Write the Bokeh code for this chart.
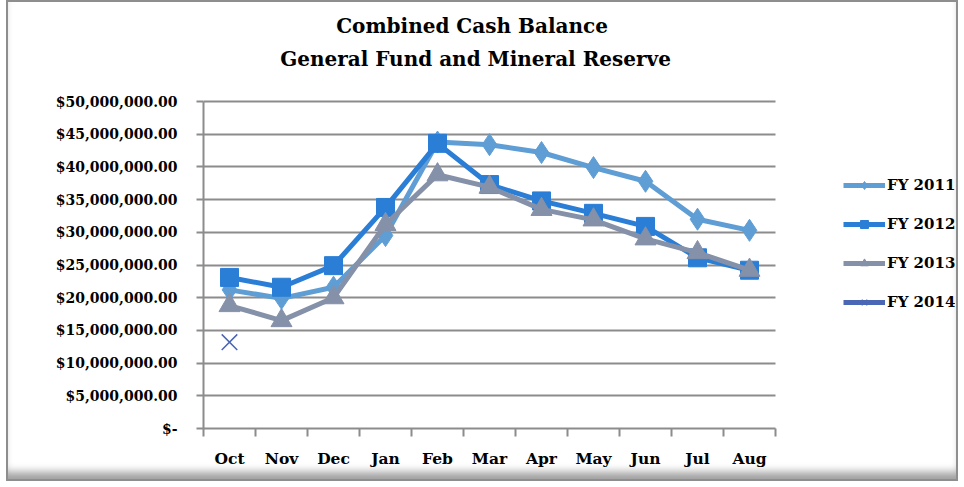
from bokeh.plotting import figure
from bokeh.models import (Range1d, FixedTicker, Legend, LegendItem, Label)
from bokeh.embed import file_html
from bokeh.resources import INLINE

months = ["Oct", "Nov", "Dec", "Jan", "Feb", "Mar", "Apr", "May", "Jun", "Jul", "Aug"]
fy2011 = [21.2e6, 19.9e6, 21.6e6, 29.5e6, 43.8e6, 43.4e6, 42.2e6, 39.9e6, 37.8e6, 32.0e6, 30.3e6]
fy2012 = [23.1e6, 21.6e6, 24.9e6, 33.8e6, 43.6e6, 37.3e6, 34.8e6, 32.9e6, 30.9e6, 26.1e6, 24.2e6]
fy2013 = [18.8e6, 16.5e6, 20.0e6, 31.2e6, 38.8e6, 36.9e6, 33.5e6, 31.9e6, 29.0e6, 26.9e6, 24.2e6]
fy2014 = [13.2e6]
series_names = ["FY 2011", "FY 2012", "FY 2013", "FY 2014"]
y_ticks = list(range(0, 50_000_001, 5_000_000))
title_lines = ["Combined  Cash Balance", "General Fund and Mineral Reserve"]

FONT = "DejaVu Serif"
W, H = 952, 481
# layout (pixels): plot area 572 x 327 px; frame extended to hold title + legend
LEFT, RIGHT_PAD, BOTTOM = 195, 5, 55
DATA_W, DATA_H = 572, 327
frame_w = W - LEFT - RIGHT_PAD
frame_h = H - BOTTOM
n = len(months)
y_max = y_ticks[-1]

xs = [i + 0.5 for i in range(n)]

p = figure(width=W, height=H, output_backend="svg", toolbar_location=None,
           x_range=Range1d(0, n * frame_w / DATA_W),
           y_range=Range1d(0, y_max * frame_h / DATA_H),
           min_border_left=LEFT, min_border_right=RIGHT_PAD,
           min_border_bottom=BOTTOM, min_border_top=0, title=None,
           styles={"border": "2px solid #8e8e8e", "margin-left": "6px",
                   "background-color": "white",
                   "box-shadow": "inset 0px -11px 8px -4px #a0a0a0"})
p.border_fill_alpha = 0
p.background_fill_alpha = 0
p.outline_line_color = None
p.xgrid.grid_line_color = None
p.ygrid.grid_line_color = "#8c8c8c"
p.ygrid.grid_line_width = 2
p.ygrid.cross_bounds = (0, n)

# x axis
p.xaxis.bounds = (0, n)
p.xaxis.ticker = FixedTicker(ticks=xs, minor_ticks=list(range(n + 1)))
p.xaxis.major_label_overrides = {x: m for x, m in zip(xs, months)}
p.xaxis.major_tick_line_color = None
p.xaxis.minor_tick_line_color = "#8c8c8c"
p.xaxis.minor_tick_line_width = 2
p.xaxis.minor_tick_out = 8
p.xaxis.minor_tick_in = 0
p.xaxis.axis_line_color = "#8c8c8c"
p.xaxis.axis_line_width = 2
p.xaxis.major_label_standoff = 12
p.xaxis.major_label_text_font = FONT
p.xaxis.major_label_text_font_style = "bold"
p.xaxis.major_label_text_font_size = "15.5px"
p.xaxis.major_label_text_color = "#000000"

# y axis
p.yaxis.bounds = (0, y_max)
p.yaxis.ticker = FixedTicker(ticks=y_ticks, minor_ticks=[])
p.yaxis.major_label_overrides = {v: ("$-" if v == 0 else f"${v:,.2f}") for v in y_ticks}
p.yaxis.axis_line_color = "#8c8c8c"
p.yaxis.axis_line_width = 2
p.yaxis.major_tick_line_color = "#8c8c8c"
p.yaxis.major_tick_line_width = 2
p.yaxis.major_tick_out = 7
p.yaxis.major_tick_in = 0
p.yaxis.major_label_standoff = 19
p.yaxis.major_label_text_font = FONT
p.yaxis.major_label_text_font_style = "bold"
p.yaxis.major_label_text_font_size = "14px"
p.yaxis.major_label_text_color = "#000000"

# titles
for txt, yoff in zip(title_lines, (403, 370)):
    p.add_layout(Label(x=272, y=yoff, x_units="screen", y_units="screen", text=txt,
                       text_align="center", text_baseline="middle",
                       text_font=FONT, text_font_size="20px", text_font_style="bold",
                       text_color="#000000"))

c11, c12, c13, c14 = "#5f9dd5", "#2a7ed6", "#8591a9", "#4a66b4"

items = []
l1 = p.line(xs, fy2011, line_color=c11, line_width=5)
m1 = p.scatter(xs, fy2011, marker="diamond", size=22, fill_color=c11, line_color=c11)
items.append(LegendItem(label=series_names[0], renderers=[l1, m1]))
l2 = p.line(xs, fy2012, line_color=c12, line_width=5)
m2 = p.scatter(xs, fy2012, marker="square", size=18, fill_color=c12, line_color=c12)
items.append(LegendItem(label=series_names[1], renderers=[l2, m2]))
l3 = p.line(xs, fy2013, line_color=c13, line_width=5)
m3 = p.scatter(xs, fy2013, marker="triangle", size=21, fill_color=c13, line_color=c13)
items.append(LegendItem(label=series_names[2], renderers=[l3, m3]))
l4 = p.line(xs[:1], fy2014, line_color=c14, line_width=5)
m4 = p.scatter(xs[:1], fy2014, marker="x", size=22, line_color=c14, line_width=1.5)
items.append(LegendItem(label=series_names[3], renderers=[l4, m4]))

legend = Legend(items=items, location=(640, 116), orientation="vertical",
                border_line_color=None, background_fill_alpha=0,
                label_text_font=FONT, label_text_font_style="bold",
                label_text_font_size="15px", label_text_color="#000000",
                glyph_width=42, glyph_height=20, label_height=20,
                spacing=19, padding=0, margin=0, label_standoff=2)
p.add_layout(legend, "center")

open("out.html", "w").write(file_html(p, INLINE))
